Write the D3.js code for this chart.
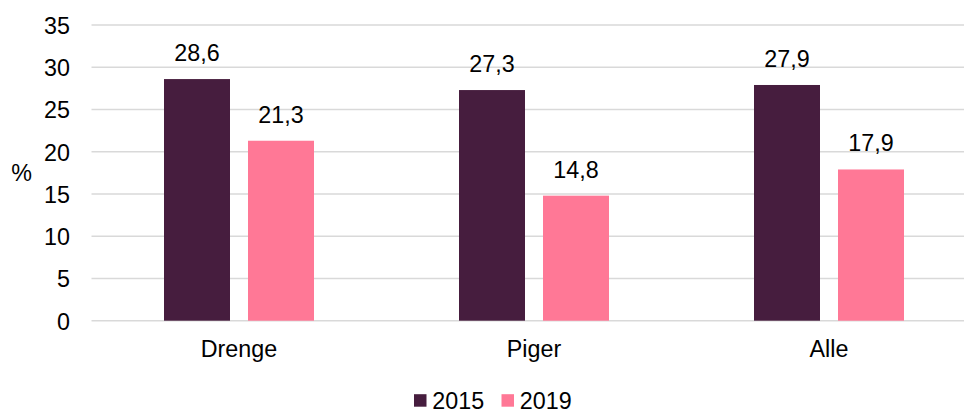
<!DOCTYPE html>
<html>
<head>
<meta charset="utf-8">
<script src="https://cdn.jsdelivr.net/npm/d3@7"></script>
<style>
body { margin: 0; background: #fff; overflow: hidden; }
text { font-family: "Liberation Sans", Arial, sans-serif; fill: #000; }
</style>
</head>
<body>
<div id="chart"></div>
<script>
// data
var categories = ["Drenge", "Piger", "Alle"];
var series = ["2015", "2019"];
var values2015 = [28.6, 27.3, 27.9];
var values2019 = [21.3, 14.8, 17.9];
var yTicks = [0, 5, 10, 15, 20, 25, 30, 35];
var colors = ["#461d3e", "#ff7896"];

var width = 964, height = 409;
var plotLeft = 91.5, plotTop = 25, plotBottom = 320.7;
var fontSize = "23.3px";

var svg = d3.select("#chart").append("svg")
  .attr("width", width)
  .attr("height", height)
  .style("display", "block");

var y = d3.scaleLinear().domain([0, 35]).range([plotBottom, plotTop]);

// one band per category, 295px wide
var x0 = d3.scaleBand().domain(categories).range([plotLeft, plotLeft + 295 * 3]);
var x1 = d3.scaleBand().domain(series)
  .range([x0.bandwidth() / 2 - 75, x0.bandwidth() / 2 + 75])
  .paddingInner(18 / 84);

// gridlines
svg.append("g").selectAll("line")
  .data(yTicks)
  .enter().append("line")
  .attr("x1", plotLeft)
  .attr("x2", width)
  .attr("y1", function(d) { return y(d); })
  .attr("y2", function(d) { return y(d); })
  .attr("stroke", "#d9d9d9")
  .attr("stroke-width", 1.5);

// y tick labels
var yAxis = svg.append("g")
  .attr("transform", "translate(70,0)")
  .call(d3.axisLeft(y).tickValues(yTicks).tickSize(0).tickPadding(0));
yAxis.select(".domain").remove();
yAxis.selectAll("text")
  .attr("font-size", fontSize)
  .attr("font-family", "Liberation Sans, Arial, sans-serif")
  .attr("fill", "#000")
  .attr("dy", "0.36em");

svg.append("text")
  .attr("x", 21.5)
  .attr("y", 181)
  .attr("text-anchor", "middle")
  .attr("font-size", fontSize)
  .text("%");

// rows built from the arrays
var rows = categories.map(function(c, i) {
  return { cat: c, vals: [values2015[i], values2019[i]] };
});

var groups = svg.selectAll(".grp")
  .data(rows)
  .enter().append("g")
  .attr("class", "grp")
  .attr("transform", function(d) { return "translate(" + x0(d.cat) + ",0)"; });

groups.selectAll("rect")
  .data(function(d) { return d.vals.map(function(v, j) { return { s: series[j], v: v, j: j }; }); })
  .enter().append("rect")
  .attr("x", function(d) { return x1(d.s); })
  .attr("y", function(d) { return y(d.v); })
  .attr("width", x1.bandwidth())
  .attr("height", function(d) { return y(0) - y(d.v); })
  .attr("fill", function(d) { return colors[d.j]; });

groups.selectAll(".val")
  .data(function(d) { return d.vals.map(function(v, j) { return { s: series[j], v: v }; }); })
  .enter().append("text")
  .attr("class", "val")
  .attr("x", function(d) { return x1(d.s) + x1.bandwidth() / 2; })
  .attr("y", function(d) { return y(d.v) - 18; })
  .attr("text-anchor", "middle")
  .attr("font-size", fontSize)
  .text(function(d) { return d3.format(".1f")(d.v).replace(".", ","); });

// category labels
svg.append("g").selectAll("text")
  .data(categories)
  .enter().append("text")
  .attr("x", function(d) { return x0(d) + x0.bandwidth() / 2; })
  .attr("y", 356.7)
  .attr("text-anchor", "middle")
  .attr("font-size", fontSize)
  .text(function(d) { return d; });

// legend
var legendX = [414, 501.5];
var legend = svg.append("g").selectAll("g")
  .data(series)
  .enter().append("g")
  .attr("transform", function(d, i) { return "translate(" + legendX[i] + ",394.2)"; });
legend.append("rect")
  .attr("width", 12.5)
  .attr("height", 12.5)
  .attr("fill", function(d, i) { return colors[i]; });
legend.append("text")
  .attr("x", 18.3)
  .attr("y", 14.3)
  .attr("font-size", fontSize)
  .text(function(d) { return d; });
</script>
</body>
</html>
